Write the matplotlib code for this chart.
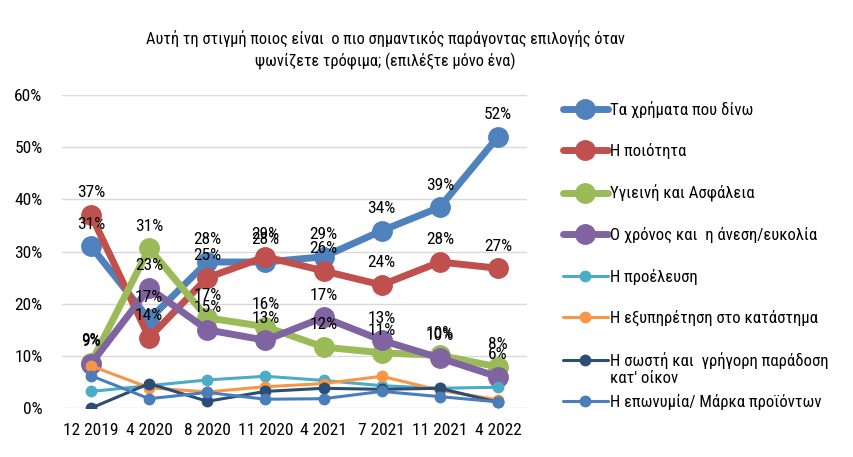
import matplotlib.pyplot as plt
from matplotlib.ticker import PercentFormatter

periods = ['12 2019', '4 2020', '8 2020', '11 2020', '4 2021', '7 2021', '11 2021', '4 2022']

names = ['Τα χρήματα που δίνω', 'Η ποιότητα', 'Υγιεινή και Ασφάλεια',
         'Ο χρόνος και  η άνεση/ευκολία', 'Η προέλευση', 'Η εξυπηρέτηση στο κατάστημα',
         'Η σωστή και  γρήγορη παράδοση', 'Η επωνυμία/ Μάρκα προϊόντων']
name_extra = "κατ' οίκον"  # second line of the 7th legend entry

money = [31, 17, 28, 28, 29, 34, 38.5, 52]
quality = [37, 13.5, 25, 29, 26.3, 23.6, 28, 26.8]
hygiene = [8.7, 30.6, 17.3, 15.6, 11.7, 10.6, 10.1, 7.9]
time_ease = [8.5, 23, 15, 13, 17.4, 13, 9.6, 6]
origin = [3.2, 4.3, 5.4, 6.1, 5.3, 4.3, 3.8, 4.0]
service = [8.1, 3.9, 3.1, 4.1, 4.7, 6.1, 3.4, 1.6]
delivery = [0, 4.7, 1.3, 3.2, 3.8, 3.6, 3.8, 1.1]
brand = [6.2, 1.8, 3.0, 1.7, 1.8, 3.2, 2.2, 1.2]

money_lbl = ['31%', '17%', '28%', '28%', '29%', '34%', '39%', '52%']
quality_lbl = ['37%', '14%', '25%', '29%', '26%', '24%', '28%', '27%']
hygiene_lbl = ['9%', '31%', '17%', '16%', '12%', '11%', '10%', '8%']
time_lbl = ['9%', '23%', '15%', '13%', '17%', '13%', '10%', '6%']

series = [money, quality, hygiene, time_ease, origin, service, delivery, brand]
labels = [money_lbl, quality_lbl, hygiene_lbl, time_lbl, None, None, None, None]
colors = ['#4F81BD', '#C0504D', '#9BBB59', '#8064A2', '#4BACC6', '#F79646', '#2C4D75', '#4A7EBB']

plt.rcParams['font.family'] = ['Roboto Condensed', 'DejaVu Sans']

fig = plt.figure(figsize=(8.54, 4.57), dpi=100)
ax = fig.add_axes([0.0726, 0.107, 0.5445, 0.685])

x = list(range(len(periods)))
for i, (vals, name, c) in enumerate(zip(series, names, colors)):
    big = i < 4
    ax.plot(x, vals, color=c, lw=5 if big else 2.2, marker='o',
            ms=14 if big else 7.5, label=name, solid_capstyle='round')
    if labels[i]:
        for xi, v, t in zip(x, vals, labels[i]):
            ax.annotate(t, (xi, v), xytext=(0, 16), textcoords='offset points',
                        ha='center', va='center', fontsize=12.5, color='black')

ax.set_xlim(-0.5, len(periods) - 0.5)
ax.set_ylim(0, 60)
ax.set_yticks(range(0, 61, 10))
ax.yaxis.set_major_formatter(PercentFormatter(decimals=0))
ax.set_xticks(x)
ax.set_xticklabels(periods)
ax.tick_params(axis='both', length=0, labelsize=12.5, pad=11)
ax.tick_params(axis='y', pad=14)
ax.grid(axis='y', color='#D9D9D9', lw=1)
ax.set_axisbelow(True)
for s in ax.spines.values():
    s.set_visible(False)

fig.suptitle('Αυτή τη στιγμή ποιος είναι  ο πιο σημαντικός παράγοντας επιλογής όταν\n'
             'ψωνίζετε τρόφιμα; (επιλέξτε μόνο ένα)',
             x=0.451, y=0.935, fontsize=11.8, linespacing=1.45)

leg = ax.legend(loc='upper left', bbox_to_anchor=(0.659, 0.779), bbox_transform=fig.transFigure,
                frameon=False, fontsize=12, handlelength=2.7, handletextpad=0.15,
                labelspacing=1.52, borderaxespad=0, borderpad=0)
ax.annotate(name_extra, xy=(0, 0), xycoords=leg.get_texts()[6], xytext=(0, -2),
            textcoords='offset points', ha='left', va='top', fontsize=12,
            zorder=10, annotation_clip=False)

fig.savefig('out.png', dpi=100)
